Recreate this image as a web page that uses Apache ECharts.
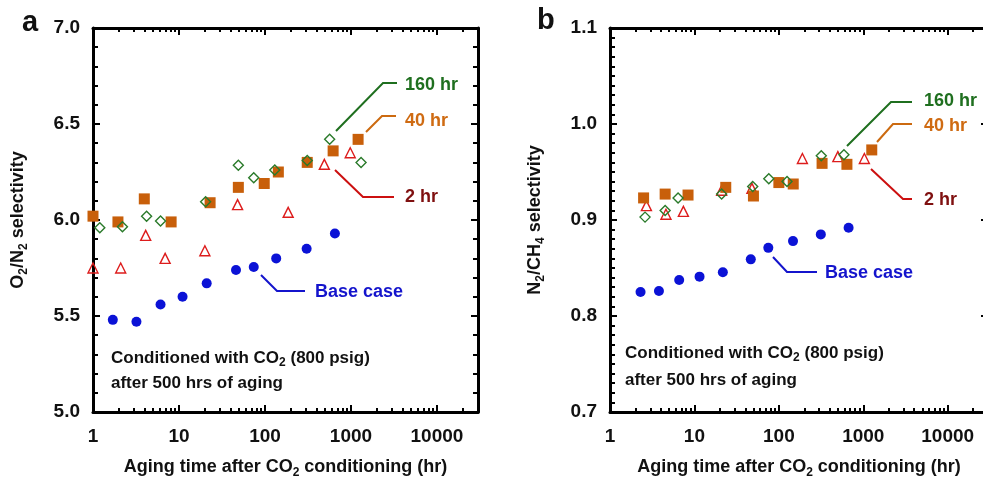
<!DOCTYPE html>
<html lang="en">
<head>
<meta charset="UTF-8">
<title>Selectivity vs aging time</title>
<script src="https://cdn.jsdelivr.net/npm/echarts@6.0.0/dist/echarts.min.js"></script>
<style>
  html, body { margin: 0; padding: 0; background: #fff; }
  #main { width: 983px; height: 480px; }
</style>
</head>
<body>
<div id="main"></div>
<script>
// ---- data (hours, selectivity) ----
var decades = [1, 10, 100, 1000, 10000];

// panel a : O2/N2
var baseA_t = [1.7, 3.2, 6.1, 11, 21, 46, 74, 135, 305, 650];
var baseA_v = [5.48, 5.47, 5.56, 5.60, 5.67, 5.74, 5.755, 5.80, 5.85, 5.93];
var h2A_t = [1, 2.1, 4.1, 6.9, 20, 48, 186, 490, 980];
var h2A_v = [5.75, 5.75, 5.92, 5.80, 5.84, 6.08, 6.04, 6.29, 6.35];
var h40A_t = [1, 1.95, 3.95, 8.1, 23, 49, 98, 143, 310, 620, 1210];
var h40A_v = [6.02, 5.99, 6.11, 5.99, 6.09, 6.17, 6.19, 6.25, 6.30, 6.36, 6.42];
var h160A_t = [1.2, 2.2, 4.2, 6.1, 20.4, 49, 74, 130, 310, 565, 1310];
var h160A_v = [5.96, 5.965, 6.02, 5.995, 6.095, 6.285, 6.22, 6.26, 6.31, 6.42, 6.30];

// panel b : N2/CH4
var baseB_t = [2.3, 3.8, 6.6, 11.5, 21.7, 46.5, 75, 147, 314, 670];
var baseB_v = [0.825, 0.826, 0.8375, 0.841, 0.8455, 0.859, 0.871, 0.878, 0.885, 0.892];
var h2B_t = [2.7, 4.6, 7.4, 21, 48, 190, 500, 1030];
var h2B_v = [0.915, 0.906, 0.909, 0.931, 0.933, 0.964, 0.966, 0.964];
var h40B_t = [2.5, 4.5, 8.4, 23.5, 50, 100, 148, 325, 640, 1260];
var h40B_v = [0.923, 0.927, 0.926, 0.934, 0.925, 0.939, 0.9375, 0.959, 0.958, 0.973];
var h160B_t = [2.6, 4.5, 6.4, 21, 49, 76, 125, 318, 590];
var h160B_v = [0.903, 0.910, 0.923, 0.927, 0.935, 0.943, 0.940, 0.967, 0.968];

var F = '"Liberation Sans", Arial, sans-serif';
var C_BASE = '#0b12d6', C_2 = '#dd1c1c', C_40 = '#c85f0a', C_160 = '#2a7a2a';

// minor ticks 2..9 of each decade
var minors = [];
decades.forEach(function (d) {
  for (var k = 2; k <= 9; k++) { if (k * d <= 30000) minors.push(k * d); }
});

function zip(t, v) { return t.map(function (x, i) { return [x, v[i]]; }); }

var richTitle = {
  a: { fontSize: 18, fontWeight: 'bold', fontFamily: F, color: '#111', lineHeight: 24 },
  s: { fontSize: 12, fontWeight: 'bold', fontFamily: F, color: '#111', lineHeight: 12, verticalAlign: 'bottom' }
};

function xAxis(g, pos, ticks, len, main) {
  return {
    type: 'log', logBase: 10, gridIndex: g, position: pos, min: 1, max: 30000,
    axisLine: { show: main, onZero: false, lineStyle: { color: '#000', width: 3 } },
    axisTick: { show: true, inside: true, length: len, customValues: ticks, lineStyle: { color: '#000', width: 2 } },
    axisLabel: {
      show: main && pos === 'bottom', customValues: decades, margin: 15,
      fontSize: 19, fontWeight: 'bold', color: '#111', fontFamily: F,
      formatter: function (v) { return String(Math.round(v)); }
    },
    splitLine: { show: false },
    name: (main && pos === 'bottom') ? '{a|Aging time after CO}{s|2}{a| conditioning (hr)}' : '',
    nameLocation: 'middle', nameGap: 43,
    nameTextStyle: { rich: richTitle }
  };
}

function yAxis(g, pos, min, max, step, split, name) {
  return {
    type: 'value', gridIndex: g, position: pos, min: min, max: max, interval: step,
    axisLine: { show: true, onZero: false, lineStyle: { color: '#000', width: 3 } },
    axisTick: { show: true, inside: true, length: 7, lineStyle: { color: '#000', width: 2 } },
    minorTick: { show: true, splitNumber: split, length: 5, lineStyle: { color: '#000', width: 2 } },
    axisLabel: {
      show: pos === 'left', margin: 13, fontSize: 19, fontWeight: 'bold', color: '#111', fontFamily: F,
      formatter: function (v) { return v.toFixed(1); }
    },
    splitLine: { show: false },
    name: pos === 'left' ? name : '',
    nameLocation: 'middle', nameRotate: 90, nameGap: 63,
    nameTextStyle: { rich: richTitle }
  };
}

function scat(name, data, xi, yi, symbol, size, fill, stroke) {
  return {
    name: name, type: 'scatter', xAxisIndex: xi, yAxisIndex: yi, data: data,
    symbol: symbol, symbolSize: size,
    itemStyle: { color: fill, borderColor: stroke, borderWidth: fill === 'transparent' ? 1.4 : 0, opacity: 1 }
  };
}

function note(points, color, text, tcolor, tx, ty) {
  return [
    { type: 'polyline', shape: { points: points }, style: { stroke: color, lineWidth: 2, fill: null }, z: 10 },
    { type: 'text', x: tx, y: ty, style: { text: text, fill: tcolor, font: 'bold 18px ' + F, verticalAlign: 'middle' }, z: 10 }
  ];
}

function cond(x, y1, y2) {
  var rich = {
    a: { fontSize: 17, fontWeight: 'bold', fontFamily: F, fill: '#111', lineHeight: 22 },
    s: { fontSize: 12, fontWeight: 'bold', fontFamily: F, fill: '#111', lineHeight: 12, verticalAlign: 'bottom' }
  };
  return [
    { type: 'text', x: x, y: y1, style: { text: '{a|Conditioned with CO}{s|2}{a| (800 psig)}', rich: rich, verticalAlign: 'middle' } },
    { type: 'text', x: x, y: y2, style: { text: 'after 500 hrs of aging', fill: '#111', font: 'bold 17px ' + F, verticalAlign: 'middle' } }
  ];
}

var chart = echarts.init(document.getElementById('main'));

var graphic = [
  { type: 'text', x: 22, y: 8, style: { text: 'a', fill: '#111', font: 'bold 29px ' + F } },
  { type: 'text', x: 537, y: 6, style: { text: 'b', fill: '#111', font: 'bold 29px ' + F } }
]
  .concat(note([[336, 131], [383, 83], [397, 83]], '#1f6f1f', '160 hr', '#1f6f1f', 405, 85))
  .concat(note([[366, 132], [382, 116], [396, 116]], '#cc6a10', '40 hr', '#cf6b12', 405, 121))
  .concat(note([[335, 170], [363, 197], [394, 197]], '#cc1010', '2 hr', '#7f1010', 405, 197))
  .concat(note([[261, 275], [277, 291], [305, 291]], '#1414cc', 'Base case', '#1414cc', 315, 292))
  .concat(note([[847, 146], [891, 102], [912, 102]], '#1f6f1f', '160 hr', '#1f6f1f', 924, 101))
  .concat(note([[877, 142], [893, 124], [912, 124]], '#cc6a10', '40 hr', '#cf6b12', 924, 126))
  .concat(note([[871, 169], [903, 199], [912, 199]], '#cc1010', '2 hr', '#7f1010', 924, 200))
  .concat(note([[773, 257], [787, 272], [817, 272]], '#1414cc', 'Base case', '#1414cc', 825, 273))
  .concat(cond(111, 358, 383))
  .concat(cond(625, 353, 380));

var option = {
  animation: false,
  backgroundColor: '#fff',
  grid: [
    { left: 93, top: 28, width: 385, height: 384, outerBoundsMode: 'none' },
    { left: 610, top: 28, width: 378, height: 384, outerBoundsMode: 'none' }
  ],
  xAxis: [
    xAxis(0, 'bottom', decades, 7, true),
    xAxis(0, 'bottom', minors, 4, false),
    xAxis(0, 'top', decades, 7, true),
    xAxis(0, 'top', minors, 4, false),
    xAxis(1, 'bottom', decades, 7, true),
    xAxis(1, 'bottom', minors, 4, false),
    xAxis(1, 'top', decades, 7, true),
    xAxis(1, 'top', minors, 4, false)
  ],
  yAxis: [
    yAxis(0, 'left', 5, 7, 0.5, 5, '{a|O}{s|2}{a|/N}{s|2}{a| selectivity}'),
    yAxis(0, 'right', 5, 7, 0.5, 5, ''),
    yAxis(1, 'left', 0.7, 1.1, 0.1, 10, '{a|N}{s|2}{a|/CH}{s|4}{a| selectivity}'),
    yAxis(1, 'right', 0.7, 1.1, 0.1, 10, '')
  ],
  series: [
    scat('Base case', zip(baseA_t, baseA_v), 0, 0, 'circle', 10, C_BASE, C_BASE),
    scat('2 hr', zip(h2A_t, h2A_v), 0, 0, 'triangle', 10, 'transparent', C_2),
    scat('40 hr', zip(h40A_t, h40A_v), 0, 0, 'rect', 11, C_40, C_40),
    scat('160 hr', zip(h160A_t, h160A_v), 0, 0, 'diamond', 10, 'transparent', C_160),
    scat('Base case', zip(baseB_t, baseB_v), 4, 2, 'circle', 10, C_BASE, C_BASE),
    scat('2 hr', zip(h2B_t, h2B_v), 4, 2, 'triangle', 10, 'transparent', C_2),
    scat('40 hr', zip(h40B_t, h40B_v), 4, 2, 'rect', 11, C_40, C_40),
    scat('160 hr', zip(h160B_t, h160B_v), 4, 2, 'diamond', 10, 'transparent', C_160)
  ],
  graphic: graphic
};

chart.setOption(option);
</script>
</body>
</html>
